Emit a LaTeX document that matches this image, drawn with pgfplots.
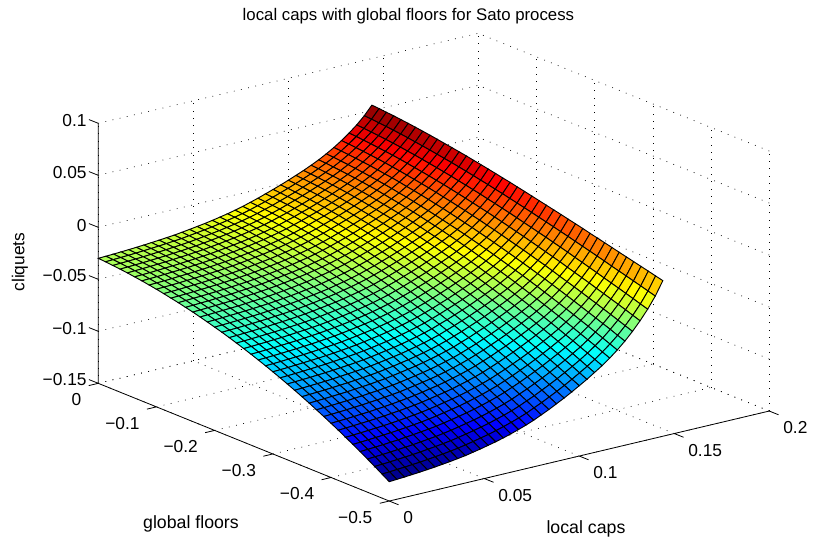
\documentclass[border=0pt]{standalone}
\usepackage{fontspec}
\setmainfont{Liberation Sans}
\usepackage{pgfplots}
\pgfplotsset{compat=1.18}
\begin{document}
\begin{tikzpicture}
\useasboundingbox (0,0) rectangle (609.75pt,406.5pt);
\begin{axis}[
  at={(73.7pt,236pt)},anchor=origin,
  x={(1425pt,337.5pt)},y={(-436.5pt,176.55pt)},z={(0pt,780pt)},
  xmin=0,xmax=0.2,ymin=-0.5,ymax=0,zmin=-0.15,zmax=0.1,
  clip=false,
  axis line style={draw=none},
  major tick length=0pt,
  grid=major,
  grid style={black,line width=0.5pt,dash pattern=on 0.6pt off 4.9pt},
  xtick={0,0.05,0.1,0.15,0.2},xticklabels={0,0.05,0.1,0.15,0.2},
  ytick={-0.5,-0.4,-0.3,-0.2,-0.1,0},yticklabels={−0.5,−0.4,−0.3,−0.2,−0.1,0},
  ztick={-0.15,-0.1,-0.05,0,0.05,0.1},zticklabels={−0.15,−0.1,−0.05,0,0.05,0.1},
  ticklabel style={font=\fontsize{13}{15}\selectfont},
  xticklabel style={anchor=west,xshift=7pt,yshift=-12.55pt},
  yticklabel style={anchor=east,xshift=-9.15pt,yshift=-12.4pt},
  zticklabel style={xshift=-5.25pt,yshift=1.1pt},
  every axis title shift=0pt,
  title={local caps with global floors for Sato process},
  title style={at={(axis cs:0.4011,0.7765,-0.15)},anchor=base,font=\fontsize{12.6}{15}\selectfont},
  xlabel={local caps},ylabel={global floors},zlabel={cliquets},
  xlabel style={at={(axis cs:0.03903,-0.7106,-0.15)},anchor=base,font=\fontsize{13.3}{15}\selectfont},
  ylabel style={at={(axis cs:-0.0869,-0.443,-0.15)},anchor=base,yshift=-1pt,font=\fontsize{13.3}{15}\selectfont,rotate=0},
  zlabel style={at={(axis cs:0.07356,0.3747,-0.15)},anchor=center,font=\fontsize{13}{15}\selectfont},
  colormap/jet,
]
\addplot3[surf,shader=faceted,faceted color=black,line width=0.7pt,mesh/rows=41,mesh/cols=37,point meta=z]
 table[row sep=\\,header=false,x expr={(\coordindex-37*floor((\coordindex+0.5)/37))*0.004},y expr={-floor((\coordindex+0.5)/37)*0.0125},z expr={\thisrowno{0}/10000}] {
-298\\-295\\-292\\-288\\-284\\-279\\-274\\-268\\-262\\-255\\-248\\-238\\-228\\-217\\-206\\-193\\-179\\-164\\-147\\-128\\-106\\-84\\-59\\-34\\-8\\20\\49\\79\\112\\147\\187\\231\\280\\335\\396\\467\\552\\
-303\\-300\\-297\\-293\\-289\\-284\\-279\\-273\\-267\\-260\\-253\\-243\\-233\\-222\\-211\\-198\\-184\\-169\\-152\\-133\\-111\\-89\\-64\\-39\\-13\\15\\44\\74\\107\\142\\182\\226\\275\\330\\391\\462\\547\\
-310\\-307\\-304\\-300\\-296\\-291\\-286\\-280\\-274\\-267\\-260\\-250\\-240\\-229\\-218\\-205\\-191\\-176\\-159\\-140\\-118\\-96\\-71\\-46\\-20\\8\\37\\67\\100\\135\\175\\219\\268\\323\\384\\455\\540\\
-317\\-314\\-311\\-307\\-303\\-298\\-293\\-287\\-281\\-274\\-267\\-257\\-247\\-236\\-225\\-212\\-198\\-183\\-166\\-147\\-125\\-103\\-78\\-53\\-27\\1\\30\\60\\93\\128\\168\\212\\261\\316\\378\\449\\534\\
-325\\-322\\-319\\-315\\-311\\-306\\-301\\-295\\-289\\-282\\-275\\-265\\-255\\-244\\-233\\-220\\-206\\-191\\-174\\-155\\-133\\-111\\-86\\-61\\-35\\-7\\22\\52\\85\\120\\160\\204\\253\\308\\370\\441\\526\\
-335\\-332\\-329\\-325\\-320\\-316\\-311\\-305\\-299\\-292\\-285\\-275\\-265\\-254\\-243\\-230\\-216\\-200\\-183\\-164\\-142\\-120\\-95\\-71\\-44\\-16\\13\\44\\76\\112\\151\\196\\245\\300\\362\\433\\518\\
-345\\-342\\-339\\-335\\-330\\-326\\-321\\-315\\-309\\-302\\-295\\-285\\-275\\-264\\-253\\-240\\-226\\-210\\-193\\-174\\-152\\-130\\-105\\-81\\-54\\-26\\3\\34\\66\\102\\141\\186\\236\\291\\353\\424\\509\\
-357\\-354\\-351\\-347\\-342\\-338\\-333\\-327\\-321\\-314\\-306\\-297\\-287\\-276\\-265\\-252\\-237\\-222\\-205\\-186\\-164\\-141\\-116\\-92\\-65\\-37\\-8\\23\\56\\92\\131\\175\\225\\281\\342\\413\\499\\
-369\\-366\\-363\\-359\\-354\\-350\\-345\\-339\\-333\\-326\\-318\\-309\\-299\\-287\\-276\\-263\\-249\\-233\\-216\\-197\\-175\\-153\\-128\\-103\\-76\\-48\\-19\\12\\45\\81\\120\\165\\214\\270\\332\\403\\489\\
-383\\-380\\-377\\-373\\-368\\-364\\-359\\-353\\-347\\-340\\-332\\-323\\-312\\-301\\-290\\-277\\-262\\-247\\-230\\-211\\-188\\-166\\-141\\-116\\-89\\-61\\-32\\-1\\32\\68\\108\\153\\202\\258\\320\\392\\478\\
-398\\-395\\-392\\-388\\-383\\-379\\-374\\-368\\-362\\-355\\-347\\-338\\-327\\-316\\-305\\-292\\-277\\-261\\-244\\-225\\-203\\-180\\-155\\-130\\-103\\-75\\-45\\-14\\18\\55\\94\\139\\190\\246\\308\\380\\466\\
-413\\-410\\-406\\-403\\-398\\-394\\-389\\-383\\-377\\-370\\-362\\-352\\-342\\-331\\-319\\-306\\-291\\-276\\-258\\-239\\-217\\-194\\-169\\-144\\-117\\-88\\-59\\-28\\5\\42\\82\\127\\177\\234\\296\\368\\455\\
-430\\-427\\-423\\-420\\-415\\-411\\-406\\-399\\-393\\-386\\-378\\-369\\-358\\-347\\-336\\-323\\-308\\-292\\-275\\-255\\-233\\-210\\-185\\-159\\-132\\-103\\-74\\-42\\-9\\27\\68\\113\\164\\220\\283\\356\\443\\
-447\\-444\\-440\\-436\\-432\\-428\\-422\\-416\\-410\\-403\\-395\\-386\\-375\\-364\\-352\\-339\\-324\\-308\\-291\\-271\\-249\\-226\\-200\\-175\\-148\\-119\\-89\\-57\\-24\\13\\53\\99\\150\\207\\270\\343\\431\\
-466\\-463\\-459\\-455\\-451\\-447\\-441\\-435\\-429\\-422\\-414\\-404\\-394\\-382\\-371\\-357\\-342\\-326\\-309\\-289\\-266\\-243\\-218\\-192\\-165\\-136\\-106\\-74\\-40\\-3\\37\\83\\134\\192\\255\\329\\417\\
-486\\-483\\-479\\-475\\-471\\-466\\-461\\-455\\-449\\-441\\-433\\-424\\-413\\-401\\-390\\-377\\-361\\-345\\-328\\-308\\-285\\-262\\-236\\-210\\-183\\-153\\-123\\-91\\-57\\-20\\21\\68\\119\\177\\241\\315\\404\\
-507\\-504\\-500\\-496\\-492\\-487\\-482\\-476\\-469\\-462\\-454\\-444\\-433\\-422\\-410\\-397\\-381\\-365\\-347\\-328\\-304\\-281\\-255\\-229\\-201\\-172\\-141\\-109\\-75\\-37\\4\\51\\103\\161\\226\\300\\390\\
-528\\-525\\-521\\-517\\-513\\-508\\-503\\-496\\-490\\-483\\-475\\-465\\-454\\-442\\-430\\-417\\-401\\-385\\-367\\-347\\-324\\-300\\-274\\-248\\-220\\-190\\-159\\-127\\-92\\-54\\-13\\34\\87\\145\\211\\286\\376\\
-551\\-548\\-544\\-540\\-535\\-531\\-525\\-519\\-513\\-505\\-497\\-487\\-476\\-464\\-453\\-439\\-423\\-407\\-389\\-369\\-345\\-321\\-295\\-268\\-240\\-210\\-179\\-146\\-111\\-73\\-31\\16\\69\\128\\194\\270\\361\\
-575\\-572\\-568\\-564\\-559\\-555\\-549\\-543\\-536\\-529\\-521\\-510\\-499\\-487\\-475\\-462\\-446\\-429\\-411\\-391\\-367\\-343\\-316\\-289\\-261\\-230\\-199\\-166\\-131\\-92\\-49\\-2\\52\\112\\178\\255\\347\\
-600\\-597\\-593\\-589\\-584\\-580\\-574\\-567\\-561\\-553\\-545\\-535\\-524\\-512\\-499\\-485\\-470\\-453\\-434\\-414\\-390\\-365\\-338\\-311\\-283\\-252\\-220\\-187\\-151\\-112\\-69\\-21\\33\\94\\161\\238\\331\\
-626\\-623\\-619\\-615\\-610\\-605\\-600\\-593\\-586\\-579\\-570\\-560\\-549\\-537\\-524\\-510\\-494\\-477\\-458\\-438\\-413\\-389\\-361\\-334\\-305\\-274\\-242\\-208\\-172\\-132\\-89\\-40\\15\\76\\144\\222\\316\\
-653\\-650\\-646\\-642\\-637\\-632\\-626\\-620\\-613\\-605\\-597\\-586\\-575\\-562\\-550\\-536\\-520\\-502\\-483\\-462\\-438\\-413\\-385\\-358\\-328\\-297\\-264\\-230\\-194\\-154\\-110\\-60\\-5\\57\\126\\205\\300\\
-681\\-678\\-674\\-669\\-665\\-660\\-654\\-647\\-640\\-633\\-624\\-613\\-602\\-589\\-577\\-562\\-546\\-529\\-509\\-488\\-463\\-438\\-410\\-382\\-352\\-320\\-287\\-253\\-216\\-175\\-131\\-81\\-25\\38\\107\\188\\284\\
-710\\-707\\-703\\-698\\-693\\-688\\-683\\-676\\-669\\-661\\-652\\-642\\-630\\-617\\-604\\-590\\-573\\-555\\-536\\-514\\-489\\-464\\-435\\-407\\-376\\-344\\-311\\-276\\-239\\-198\\-153\\-102\\-45\\19\\89\\170\\268\\
-740\\-737\\-733\\-728\\-723\\-718\\-712\\-705\\-698\\-690\\-681\\-671\\-659\\-646\\-633\\-618\\-601\\-583\\-563\\-542\\-516\\-490\\-461\\-432\\-402\\-369\\-335\\-300\\-262\\-220\\-175\\-123\\-65\\-1\\70\\153\\252\\
-771\\-767\\-763\\-759\\-754\\-749\\-743\\-736\\-729\\-721\\-712\\-701\\-688\\-675\\-662\\-647\\-630\\-612\\-592\\-570\\-543\\-517\\-488\\-459\\-428\\-394\\-360\\-324\\-286\\-243\\-197\\-145\\-86\\-21\\52\\135\\236\\
-803\\-799\\-795\\-791\\-786\\-781\\-774\\-767\\-760\\-752\\-743\\-731\\-719\\-706\\-693\\-677\\-660\\-642\\-621\\-599\\-572\\-545\\-516\\-486\\-454\\-421\\-386\\-349\\-310\\-267\\-220\\-167\\-108\\-42\\32\\117\\219\\
-836\\-832\\-828\\-824\\-818\\-813\\-807\\-800\\-792\\-784\\-775\\-763\\-751\\-737\\-724\\-708\\-691\\-672\\-651\\-628\\-601\\-574\\-544\\-514\\-482\\-447\\-412\\-375\\-335\\-292\\-244\\-190\\-129\\-62\\13\\99\\203\\
-870\\-866\\-862\\-857\\-852\\-847\\-840\\-833\\-826\\-817\\-808\\-796\\-783\\-770\\-756\\-740\\-722\\-703\\-682\\-659\\-631\\-604\\-573\\-543\\-510\\-475\\-439\\-401\\-361\\-317\\-268\\-213\\-152\\-83\\-7\\80\\186\\
-906\\-902\\-898\\-893\\-888\\-882\\-876\\-868\\-861\\-852\\-843\\-831\\-818\\-804\\-790\\-774\\-756\\-736\\-715\\-691\\-663\\-635\\-604\\-573\\-540\\-504\\-468\\-429\\-388\\-343\\-294\\-238\\-176\\-106\\-29\\61\\168\\
-942\\-938\\-934\\-929\\-923\\-918\\-911\\-904\\-896\\-887\\-878\\-865\\-852\\-838\\-824\\-808\\-789\\-769\\-747\\-723\\-695\\-667\\-635\\-603\\-569\\-533\\-496\\-457\\-415\\-369\\-319\\-262\\-199\\-128\\-49\\42\\151\\
-979\\-975\\-971\\-966\\-960\\-955\\-948\\-940\\-932\\-923\\-913\\-901\\-888\\-873\\-859\\-842\\-823\\-803\\-781\\-756\\-727\\-699\\-666\\-634\\-599\\-563\\-525\\-485\\-443\\-396\\-345\\-287\\-222\\-150\\-70\\23\\134\\
-1017\\-1013\\-1008\\-1003\\-998\\-992\\-985\\-977\\-969\\-960\\-950\\-938\\-924\\-909\\-895\\-878\\-858\\-838\\-815\\-790\\-761\\-731\\-698\\-665\\-630\\-593\\-554\\-514\\-470\\-423\\-371\\-312\\-246\\-172\\-91\\4\\117\\
-1057\\-1053\\-1048\\-1043\\-1037\\-1032\\-1025\\-1017\\-1008\\-999\\-989\\-976\\-962\\-947\\-932\\-915\\-895\\-874\\-851\\-826\\-796\\-766\\-732\\-699\\-663\\-625\\-585\\-544\\-500\\-451\\-398\\-338\\-271\\-196\\-113\\-17\\99\\
-1097\\-1093\\-1088\\-1083\\-1077\\-1071\\-1064\\-1056\\-1047\\-1038\\-1027\\-1014\\-1000\\-985\\-970\\-952\\-932\\-911\\-887\\-861\\-831\\-800\\-766\\-732\\-695\\-656\\-616\\-574\\-529\\-479\\-425\\-364\\-295\\-219\\-134\\-36\\82\\
-1138\\-1134\\-1129\\-1124\\-1118\\-1112\\-1104\\-1096\\-1087\\-1078\\-1067\\-1054\\-1039\\-1024\\-1008\\-990\\-970\\-948\\-924\\-897\\-866\\-835\\-800\\-765\\-728\\-688\\-647\\-604\\-558\\-508\\-452\\-390\\-320\\-242\\-155\\-55\\65\\
-1181\\-1177\\-1172\\-1166\\-1160\\-1154\\-1147\\-1138\\-1129\\-1120\\-1108\\-1095\\-1080\\-1064\\-1048\\-1030\\-1009\\-987\\-962\\-935\\-903\\-871\\-836\\-800\\-762\\-721\\-680\\-635\\-589\\-537\\-480\\-417\\-345\\-265\\-177\\-75\\48\\
-1224\\-1220\\-1215\\-1209\\-1203\\-1196\\-1189\\-1180\\-1171\\-1161\\-1150\\-1136\\-1121\\-1105\\-1088\\-1070\\-1048\\-1026\\-1001\\-973\\-940\\-908\\-871\\-835\\-796\\-755\\-712\\-667\\-619\\-566\\-509\\-443\\-371\\-289\\-199\\-94\\31\\
-1269\\-1265\\-1259\\-1254\\-1247\\-1241\\-1233\\-1224\\-1215\\-1205\\-1193\\-1179\\-1164\\-1147\\-1131\\-1111\\-1090\\-1066\\-1041\\-1013\\-979\\-946\\-909\\-872\\-832\\-790\\-746\\-700\\-651\\-597\\-538\\-472\\-397\\-314\\-222\\-115\\13\\
-1314\\-1309\\-1304\\-1298\\-1292\\-1285\\-1277\\-1268\\-1259\\-1248\\-1237\\-1222\\-1207\\-1190\\-1173\\-1153\\-1131\\-1107\\-1081\\-1052\\-1018\\-984\\-946\\-908\\-867\\-824\\-780\\-732\\-683\\-628\\-567\\-499\\-423\\-338\\-244\\-135\\-4\\
};
\draw[black,line width=0.6pt]
 (axis cs:0,0,0.1)--(axis cs:0,0,-0.15)--(axis cs:0,-0.5,-0.15)--(axis cs:0.2,-0.5,-0.15)
 (axis cs:0,-0.5,-0.15)--(axis cs:0,-0.516,-0.15)
 (axis cs:0.05,-0.5,-0.15)--(axis cs:0.05,-0.516,-0.15)
 (axis cs:0.1,-0.5,-0.15)--(axis cs:0.1,-0.516,-0.15)
 (axis cs:0.15,-0.5,-0.15)--(axis cs:0.15,-0.516,-0.15)
 (axis cs:0.2,-0.5,-0.15)--(axis cs:0.2,-0.516,-0.15)
 (axis cs:0,-0.5,-0.15)--(axis cs:-0.005,-0.5,-0.15)
 (axis cs:0,-0.4,-0.15)--(axis cs:-0.005,-0.4,-0.15)
 (axis cs:0,-0.3,-0.15)--(axis cs:-0.005,-0.3,-0.15)
 (axis cs:0,-0.2,-0.15)--(axis cs:-0.005,-0.2,-0.15)
 (axis cs:0,-0.1,-0.15)--(axis cs:-0.005,-0.1,-0.15)
 (axis cs:0,0,-0.15)--(axis cs:-0.005,0,-0.15)
 (axis cs:0,0,-0.15)--(axis cs:0,0.016,-0.15)
 (axis cs:0,0,-0.1)--(axis cs:0,0.016,-0.1)
 (axis cs:0,0,-0.05)--(axis cs:0,0.016,-0.05)
 (axis cs:0,0,0)--(axis cs:0,0.016,0)
 (axis cs:0,0,0.05)--(axis cs:0,0.016,0.05)
 (axis cs:0,0,0.1)--(axis cs:0,0.016,0.1);
\end{axis}
\end{tikzpicture}
\end{document}
